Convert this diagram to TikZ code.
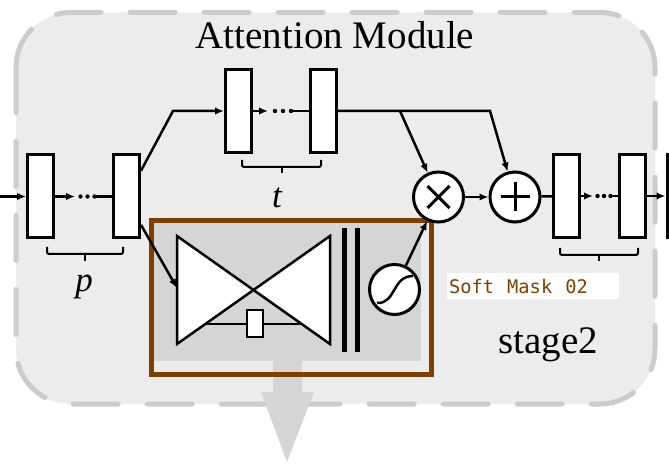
\documentclass[tikz,border=0pt]{standalone}
\usepackage{fontspec}
\setmainfont{Liberation Serif}
\newfontfamily\monof{DejaVu Sans Mono}
\usetikzlibrary{arrows.meta,calc}
\definecolor{bgc}{HTML}{ECECEC}
\definecolor{dashc}{HTML}{CCCCCC}
\definecolor{innerc}{HTML}{D5D5D5}
\definecolor{brn}{HTML}{7F3F00}
\begin{document}
\begin{tikzpicture}[x=1bp,y=-1bp,
 blk/.style={draw, fill=white, line width=3bp, minimum width=26bp, minimum height=83bp, inner sep=0pt},
 opc/.style={draw, circle, fill=white, line width=3bp, minimum size=50bp, inner sep=0pt},
 conn/.style={line width=2.5bp},
 arr/.style={conn, -{Latex[length=9bp,width=7.5bp]}},
 brc/.style={line width=2bp, rounded corners=2bp},
 bigtxt/.style={font=\fontsize{39bp}{44bp}\selectfont, inner sep=0pt},
 lettr/.style={font=\fontsize{35bp}{40bp}\selectfont\itshape, inner sep=0pt},
]
\useasboundingbox (0,0) rectangle (669,464);
% outer module
\draw[fill=bgc, draw=dashc, line width=5bp, dash pattern=on 45bp off 29bp, line cap=round, rounded corners=55bp] (16,12.5) rectangle (655,404);
\node[bigtxt, anchor=base] (title) at (335,49) {Attention Module};
\node[bigtxt, anchor=base west] (stage) at (498,353) {stage2};

% soft mask area
\fill[innerc] (153,223) rectangle (421,361);
\fill[innerc] (273,361) -- (302,361) -- (302,392) -- (314,392) -- (287,462) -- (261,392) -- (273,392) -- cycle;
\draw[brn, line width=5bp] (151.5,220.5) rectangle (431.5,374.5);

% hourglass
\draw[fill=white, line width=2.5bp] (177,236) -- (330,344) -- (330,236) -- (177,344) -- cycle;
\draw[line width=2.5bp] (205,324) -- (302,324);
\node[draw, fill=white, line width=2.5bp, minimum width=16bp, minimum height=27bp, inner sep=0pt] (skip) at (255,323.5) {};
\coordinate (hgin) at (177,288);
% bars
\draw[line width=5bp] (344,228) -- (344,352);
\draw[line width=5bp] (357,228) -- (357,352);
% sigmoid
\node[opc] (sig) at (394.5,289.5) {};
\draw[line width=2.5bp] (377,303) .. controls (396,304) and (392,276) .. (413,276);

% label
\node[fill=white, text=brn, font=\monof\fontsize{18.7bp}{20bp}\selectfont, anchor=north west, minimum height=26bp, text width=168bp, inner xsep=2bp, inner ysep=0pt, align=left] (smlabel) at (447,273) {Soft\hspace{13bp}Mask\hspace{13bp}02};

% blocks
\node[blk] (b1) at (40.5,196.5) {};
\node[blk] (b2) at (126.5,196.5) {};
\node[blk] (b3) at (238.5,111) {};
\node[blk] (b4) at (323.5,111) {};
\node[blk] (b5) at (566.5,196) {};
\node[blk] (b6) at (632,196) {};
\node[blk] (b7) at (680,196) {};

% operators
\node[opc] (mul) at (438.5,197) {};
\draw[line width=3bp] ($(mul)+(-11,-11)$) -- ($(mul)+(11,11)$);
\draw[line width=3bp] ($(mul)+(-11,11)$) -- ($(mul)+(11,-11)$);
\node[opc] (add) at (515,197) {};
\draw[line width=3bp] ($(add)+(-14.5,0)$) -- ($(add)+(14.5,0)$);
\draw[line width=3bp] ($(add)+(0,-14.5)$) -- ($(add)+(0,14.5)$);

% chains
\coordinate (inp) at (0,196.5);
\draw[arr] (inp) -- (b1);
\draw[arr] (b1.east) -- (75,196.5);
\fill (80.5,196.5) circle[radius=2.2bp] (87.5,196.5) circle[radius=2.2bp] (94.5,196.5) circle[radius=2.2bp];
\draw[conn] (95,196.5) -- (b2.west);

\draw[arr] (b3.east) -- (268,111);
\fill (275,111) circle[radius=2.2bp] (283,111) circle[radius=2.2bp] (291,111) circle[radius=2.2bp];
\draw[conn] (292,111) -- (b4.west);

\draw[arr] (b5.east) -- (593,196);
\fill (597.5,196) circle[radius=2.2bp] (604,196) circle[radius=2.2bp] (610.5,196) circle[radius=2.2bp];
\draw[conn] (610.5,196) -- (b6.west);
\draw[arr] (b6) -- (b7);

% connections
\draw[arr] ($(b2.north east)!0.2!(b2.south east)$) -- (173,111) -- (b3.west);
\draw[arr] ($(b2.north east)!0.83!(b2.south east)$) -- (hgin);
\coordinate (br1) at (400,111);
\coordinate (br2) at (490,111);
\draw[arr] (b4.east) -- (br2) -- (add);
\draw[arr] (br1) -- (mul);
\draw[arr] (mul) -- (add);
\draw[conn] (add) -- (b5);
\draw[arr] (sig) -- (mul);

% braces
\draw[brc] (47,247) -- (47,254) -- (123,254) -- (123,247);
\draw[line width=2bp] (85,254) -- (85,261);
\draw[brc] (242,160) -- (242,167) -- (321,167) -- (321,160);
\draw[line width=2bp] (281.5,167) -- (281.5,173);
\draw[brc] (560,248) -- (560,255) -- (638,255) -- (638,248);
\draw[line width=2bp] (599,255) -- (599,261);
\node[lettr, anchor=base] (plab) at (84,292) {p};
\node[lettr, anchor=base] (tlab) at (277,208) {t};
\end{tikzpicture}
\end{document}
